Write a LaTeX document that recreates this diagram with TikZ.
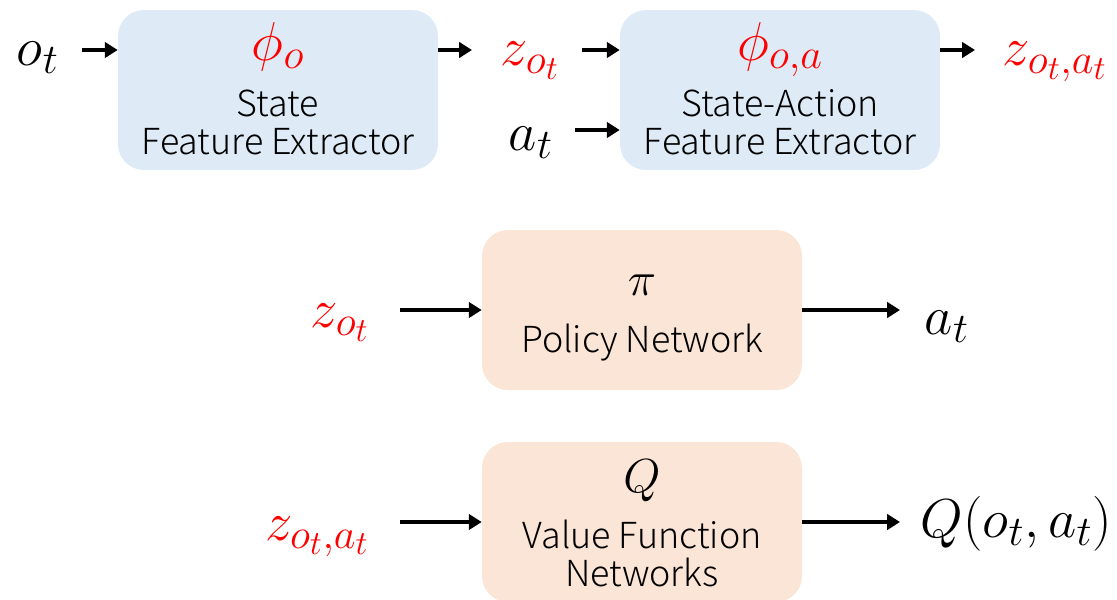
\documentclass[tikz,border=0pt]{standalone}
\usepackage{fix-cm}
\usepackage{amsmath}
\usepackage{fontspec}
\setmainfont{Noto Sans CJK JP Light}
\usepackage{tikz}
\usetikzlibrary{arrows.meta,calc,positioning}
\definecolor{boxblue}{RGB}{222,235,247}
\definecolor{boxpeach}{RGB}{251,229,214}
\definecolor{red1}{RGB}{255,0,0}
\DeclareMathSizes{39}{39}{30}{24}
\DeclareMathSizes{34}{34}{26}{21}

\tikzset{
  blk/.style={rounded corners=0.65cm, minimum width=8cm, minimum height=4cm, inner sep=0pt},
  arr/.style={-{Triangle[length=3.2mm,width=3.8mm]}, line width=3.5pt},
  txt/.style={anchor=base, font=\fontsize{25.5}{30}\selectfont},
  mth/.style={anchor=base, font=\fontsize{39}{42}\selectfont},
}

\begin{document}
\begin{tikzpicture}
  \useasboundingbox (0,0) rectangle (27.925,-14.975);

  % feature extractors
  \node[blk, fill=boxblue] (stfe) at (6.95,-2.25) {};
  \node[blk, fill=boxblue] (safe) at (19.5,-2.25) {};
  \node[mth, red1] (phio) at (6.95,-1.5) {$\phi_o$};
  \node[txt] (stfe1) at (6.95,-2.9) {State};
  \node[txt] (stfe2) at (6.95,-3.85) {Feature Extractor};
  \node[mth, red1] (phioa) at (19.5,-1.5) {$\phi_{o,a}$};
  \node[txt] (safe1) at (19.5,-2.9) {State-Action};
  \node[txt] (safe2) at (19.5,-3.85) {Feature Extractor};

  % policy and value networks
  \node[blk, fill=boxpeach] (pol) at (16.05,-7.75) {};
  \node[blk, fill=boxpeach] (val) at (16.05,-13.05) {};
  \node[mth, font=\fontsize{34}{38}\selectfont] (pi) at (16.05,-7.375) {$\pi$};
  \node[txt] (pol1) at (16.05,-8.8) {Policy Network};
  \node[mth, font=\fontsize{34}{38}\selectfont] (q) at (16.05,-12.3) {$Q$};
  \node[txt] (val1) at (16.05,-13.7) {Value Function};
  \node[txt] (val2) at (16.05,-14.65) {Networks};

  % inputs and outputs
  \node[mth, anchor=base west] (ot) at (0.3,-1.625) {$o_t$};
  \node[mth, anchor=base west, red1] (zo) at (12.4,-1.625) {$z_{o_t}$};
  \node[mth, anchor=base west] (at) at (12.6,-3.75) {$a_t$};
  \node[mth, anchor=base west, red1] (zoa) at (24.95,-1.625) {$z_{o_t,a_t}$};
  \node[mth, anchor=base east, red1] (zo2) at (9.35,-8.175) {$z_{o_t}$};
  \node[mth, anchor=base west] (at2) at (23.0,-8.35) {$a_t$};
  \node[mth, anchor=base east, red1] (zoa2) at (9.35,-13.5) {$z_{o_t,a_t}$};
  \node[mth, anchor=base west] (qout) at (22.9,-13.425) {$Q(o_t,a_t)$};

  \coordinate (in1) at ($(stfe.west)+(0,1)$);
  \coordinate (out1) at ($(stfe.east)+(0,1)$);
  \coordinate (in2) at ($(safe.west)+(0,1)$);
  \coordinate (in3) at ($(safe.west)+(0,-1)$);
  \coordinate (out2) at ($(safe.east)+(0,1)$);
  \coordinate (s1) at (2.05,-1.25);
  \coordinate (e1) at (11.8,-1.25);
  \coordinate (s2) at (14.55,-1.25);
  \coordinate (s3) at (14.375,-3.25);
  \coordinate (e2) at (24.375,-1.25);
  \coordinate (s4) at (10.0,-7.75);
  \coordinate (e4) at (22.5,-7.75);
  \coordinate (s5) at (10.0,-13.05);
  \coordinate (e5) at (22.5,-13.05);

  \draw[arr] (s1) -- (in1);
  \draw[arr] (out1) -- (e1);
  \draw[arr] (s2) -- (in2);
  \draw[arr] (s3) -- (in3);
  \draw[arr] (out2) -- (e2);
  \draw[arr] (s4) -- (pol.west);
  \draw[arr] (pol.east) -- (e4);
  \draw[arr] (s5) -- (val.west);
  \draw[arr] (val.east) -- (e5);
\end{tikzpicture}
\end{document}
